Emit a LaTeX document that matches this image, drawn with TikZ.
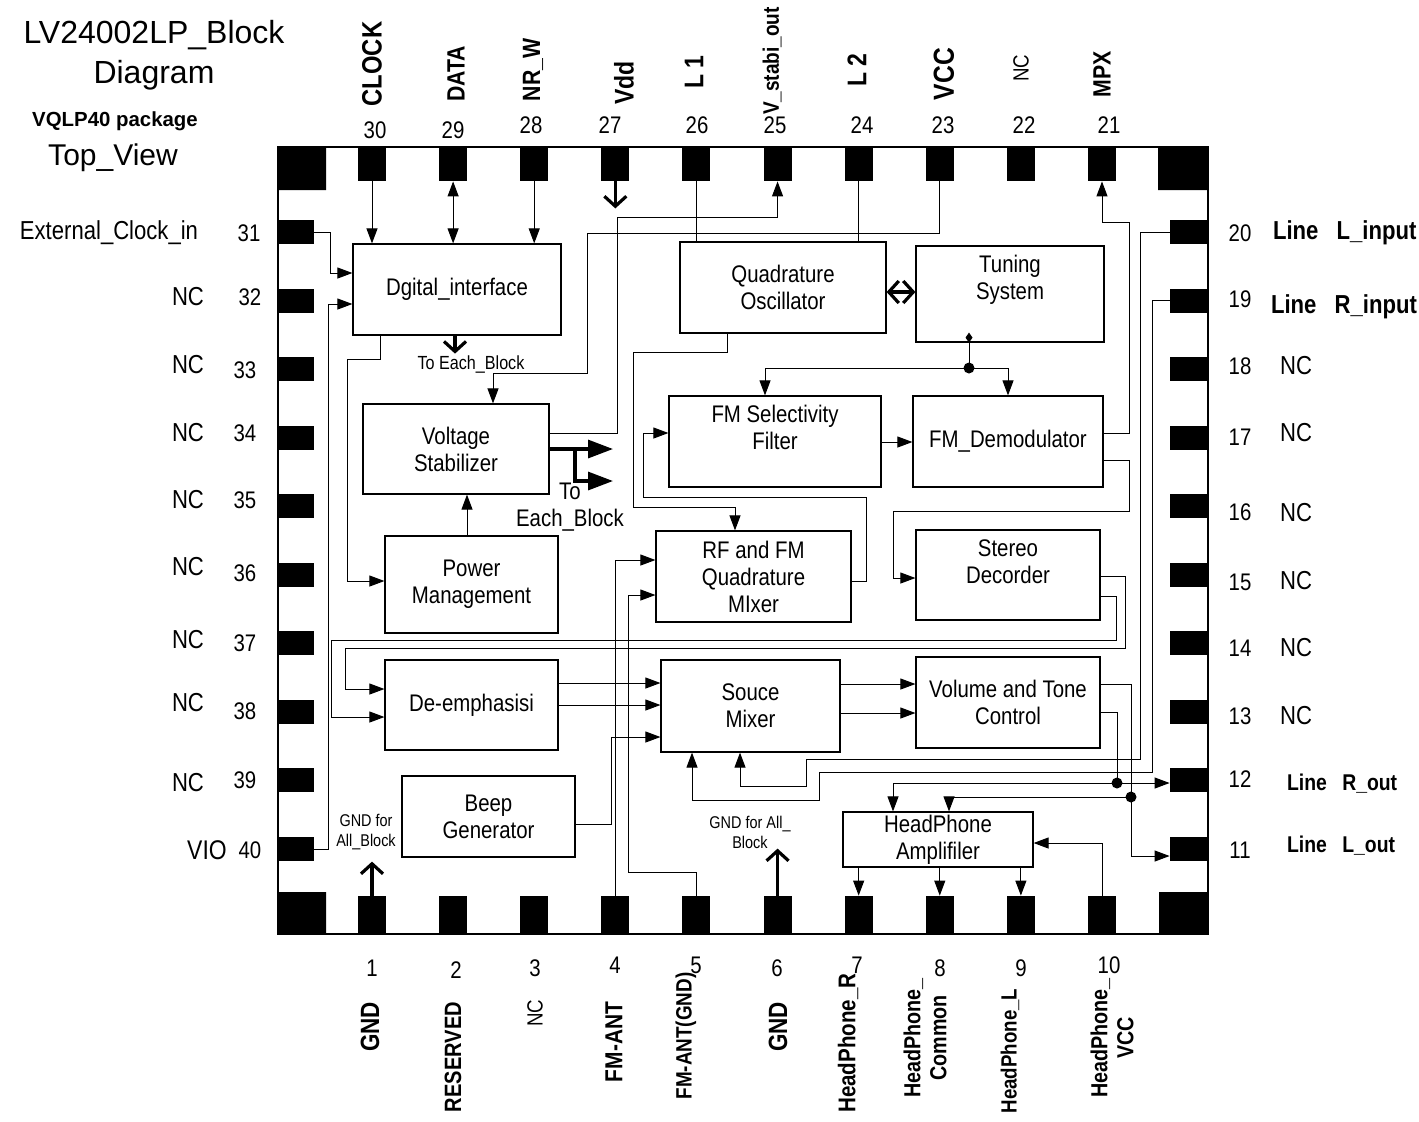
\documentclass[tikz,border=0pt]{standalone}
\usepackage{fontspec}
\setmainfont{Liberation Sans}
\newfontfamily\nar{Liberation Sans}[FakeStretch=0.85]
\usetikzlibrary{arrows.meta,calc}

\begin{document}
\begin{tikzpicture}[x=0.5pt, y=-0.5pt,
  block/.style={draw, line width=0.6pt, inner sep=0pt, align=center, font=\nar\fontsize{12}{13.5}\selectfont},
  pad/.style={fill=black, inner sep=0pt},
  wire/.style={line width=0.5pt},
  sig/.style={wire, -{Triangle[length=7.5pt,width=5.5pt]}},
  sigsig/.style={wire, {Triangle[length=7.5pt,width=5.5pt]}-{Triangle[length=7.5pt,width=5.5pt]}},
  bus/.style={line width=1.6pt, -{Straight Barb[length=5pt,width=11pt]}},
  busbus/.style={line width=1.6pt, {Straight Barb[length=5pt,width=11pt]}-{Straight Barb[length=5pt,width=11pt]}},
  pwr/.style={line width=1.6pt, -{Triangle[length=12.5pt,width=9pt]}},
  dot/.style={circle, fill=black, inner sep=0pt, minimum size=5.5pt},
  num/.style={font=\nar\fontsize{12}{13}\selectfont},
  nc/.style={font=\nar\fontsize{13}{14}\selectfont},
  pinlbl/.style={rotate=90, align=center, font=\nar\bfseries\fontsize{#1}{13}\selectfont},
  small/.style={align=center, font=\nar\fontsize{#1}{10}\selectfont}]
  \fill[white, use as bounding box] (0,0) rectangle (1419,1121);
  % heading
  \node[align=center, font=\fontsize{16}{20}\selectfont] (title) at (154,55) {LV24002LP\_Block\\Diagram};
  \node[font=\bfseries\fontsize{10.2}{12}\selectfont] (pkg) at (115,121) {VQLP40 package};
  \node[font=\fontsize{15}{17}\selectfont] (view) at (113,158) {Top\_View};
  % package and pads
  \draw[line width=0.6pt] (278,147) rectangle (1208,934);
  \fill (278,147) rectangle (326,190) (1158,147) rectangle (1208,190)
        (278,892) rectangle (326,934) (1159,892) rectangle (1208,934);
  \foreach \n [count=\i from 0] in {30,29,...,21}
    \node[pad, minimum width=14pt, minimum height=17pt] (p\n) at ({372+81.11*\i},164) {};
  \foreach \n in {1,...,10}
    \node[pad, minimum width=14pt, minimum height=19pt] (p\n) at ({372+81.11*(\n-1)},915) {};
  \foreach \n in {31,...,40}
    \node[pad, minimum width=18pt, minimum height=12pt] (p\n) at (296,{232+68.56*(\n-31)}) {};
  \foreach \n in {20,19,...,11}
    \node[pad, minimum width=19pt, minimum height=12pt] (p\n) at (1189,{232+68.56*(20-\n)}) {};
  % pin numbers
  \foreach \n/\x/\y in {30/375/130, 29/453/130, 28/531/125, 27/610/125, 26/697/125, 25/775/125, 24/862/125, 23/943/125, 22/1024/125, 21/1109/125,
                        1/372/968, 2/456/970, 3/535/968, 4/615/965, 5/696/965, 6/777/968, 7/857/965, 8/940/968, 9/1021/968, 10/1109/965,
                        31/249/233, 32/250/297, 33/245/370, 34/245/433, 35/245/500, 36/245/573, 37/245/643, 38/245/711, 39/245/780, 40/250/850,
                        20/1240/233, 19/1240/299, 18/1240/366, 17/1240/437, 16/1240/512, 15/1240/582, 14/1240/648, 13/1240/716, 12/1240/779, 11/1240/850}
    \node[num] (n\n) at (\x,\y) {\n};
  % pin names
  \foreach \n/\x/\y/\s/\t in {30/372/64/14/CLOCK, 29/456/74/12.5/DATA, 28/533/70/12.5/NR\_W, 27/624/83/13.5/Vdd, 26/694/72/13.5/L 1,
                              25/772/61/11.2/V\_stabi\_out, 24/857/70/13.5/L 2, 23/944/74/14.5/VCC, 21/1102/74/12.5/MPX,
                              1/370/1027/13.2/GND, 2/453/1057/11.8/RESERVED, 4/614/1042/12.3/FM-ANT, 5/686/1036/11.1/FM-ANT(GND),
                              6/778/1027/13.2/GND, 7/848/1043/12.1/HeadPhone\_R, 8/925/1038/11.6/HeadPhone\_\\Common,
                              9/1010/1051/11/HeadPhone\_L, 10/1112/1038/11.6/HeadPhone\_\\VCC}
    \node[pinlbl=\s] (t\n) at (\x,\y) {\t};
  \node[nc, rotate=90, font=\nar\fontsize{11}{12}\selectfont] (t22) at (1021,68) {NC};
  \node[nc, rotate=90, font=\nar\fontsize{11}{12}\selectfont] (t3) at (535,1013) {NC};
  \node[nc] (t31) at (109,233) {External\_Clock\_in};
  \foreach \n/\y in {32/297, 33/365, 34/433, 35/500, 36/567, 37/640, 38/703, 39/783}
    \node[nc] (t\n) at (188,\y) {NC};
  \node[font=\nar\fontsize{13.5}{14}\selectfont] (t40) at (207,850) {VIO};
  \foreach \n/\y in {18/366, 17/433, 16/513, 15/581, 14/648, 13/716}
    \node[nc] (t\n) at (1296,\y) {NC};
  \node[anchor=west, font=\nar\bfseries\fontsize{13}{14}\selectfont] (t20) at (1266,233) {Line\hspace{6pt} L\_input};
  \node[anchor=west, font=\nar\bfseries\fontsize{13}{14}\selectfont] (t19) at (1264,307) {Line\hspace{6pt} R\_input};
  \node[anchor=west, font=\nar\bfseries\fontsize{11.4}{12}\selectfont] (t12) at (1280,784) {Line\hspace{5pt} R\_out};
  \node[anchor=west, font=\nar\bfseries\fontsize{11.4}{12}\selectfont] (t11) at (1280,846) {Line\hspace{5pt} L\_out};
  % blocks
  \node[block, minimum width=104pt, minimum height=45.5pt] (dig) at (457,289.5) {Dgital\_interface};
  \node[block, minimum width=103pt, minimum height=45.5pt] (qo) at (783,287.5) {Quadrature\\Oscillator};
  \node[block, minimum width=94pt, minimum height=48pt, label={[align=center, font=\nar\fontsize{12}{13.5}\selectfont, yshift=7pt]center:Tuning\\System}] (tun) at (1010,294) {};
  \node[block, minimum width=93pt, minimum height=45pt] (vs) at (456,449) {Voltage\\Stabilizer};
  \node[block, minimum width=86.5pt, minimum height=48.5pt] (pm) at (471.5,584.5) {Power\\Management};
  \node[block, minimum width=106pt, minimum height=45.5pt, label={[align=center, font=\nar\fontsize{12}{13.5}\selectfont, yshift=7pt]center:FM Selectivity\\Filter}] (fms) at (775,441.5) {};
  \node[block, minimum width=95pt, minimum height=45.5pt] (fmd) at (1008,441.5) {FM\_Demodulator};
  \node[block, minimum width=97.5pt, minimum height=45.5pt] (rfm) at (753.5,576.5) {RF and FM\\Quadrature\\MIxer};
  \node[block, minimum width=92pt, minimum height=45pt, label={[align=center, font=\nar\fontsize{12}{13.5}\selectfont, yshift=6.5pt]center:Stereo\\Decorder}] (ster) at (1008,575) {};
  \node[block, minimum width=86.5pt, minimum height=45pt] (dem) at (471.5,705) {De-emphasisi};
  \node[block, minimum width=89.5pt, minimum height=46pt] (smx) at (750.5,706) {Souce\\Mixer};
  \node[block, minimum width=92pt, minimum height=45.5pt] (vol) at (1008,702.5) {Volume and Tone\\Control};
  \node[block, minimum width=86.5pt, minimum height=40.5pt] (beep) at (488.5,816.5) {Beep\\Generator};
  \node[block, minimum width=95pt, minimum height=27.5pt] (hpa) at (938,839.5) {HeadPhone\\Amplifiler};
  % notes
  \node[small=9.5] (te1) at (471,364) {To Each\_Block};
  \node[align=center, font=\nar\fontsize{12}{13.5}\selectfont] (te2) at (570,507) {To\\Each\_Block};
  \node[small=8.5] (g1) at (366,832) {GND for\\All\_Block};
  \node[small=8.5] (g6) at (750,832) {GND for All\_\\Block};
  % junctions
  \coordinate (tund) at ($(tun.south -| 969,0)+(0,-10)$);
  \node[dot] (j1) at (969,368) {};
  \node[dot] (j2) at (1117,783) {};
  \node[dot] (j3) at (1131,797) {};
  \coordinate (eb1) at (613,449);
  \coordinate (eb2) at (613,481);
  % top pins
  \draw[sig] (p30.south) -- (dig.north -| p30);
  \draw[sigsig] (p29.south) -- (dig.north -| p29);
  \draw[sig] (p28.south) -- (dig.north -| p28);
  \draw[bus] (p27.south) -- ++(0,27);
  \draw[wire] (p26.south) -- (qo.north -| p26);
  \draw[sig] (vs.east |- 0,433) -| (617,217) -| (p25.south);
  \draw[wire] (p24.south) -- (qo.north -| p24);
  \draw[sig] (p23.south) |- (587,233) |- (493,373) -- (vs.north -| 493,0);
  % left pins
  \draw[sig] (p31.east) -| (330,273) -- (dig.west |- 0,273);
  \draw[sig] (p40.east) -| (328,304) -- (dig.west |- 0,304);
  % power
  \draw[sig] (dig.south -| 380,0) |- (347,359) |- (pm.west |- 0,581);
  \draw[bus] (dig.south -| 455,0) -- ++(0,18);
  \draw[sig] (pm.north -| 467,0) -- (vs.south -| 467,0);
  \draw[pwr] (vs.east |- 0,449) -- (eb1);
  \draw[pwr] (575,449) |- (eb2);
  % tuning and FM path
  \draw[sig] (qo.south -| 727,0) |- (633,352) |- (735,507) -- (rfm.north -| 735,0);
  \draw[busbus] (qo.east |- 0,292) -- (tun.west |- 0,292);
  \draw[wire, {Diamond[length=5pt,width=3.5pt]}-] (tund) -- (j1.center);
  \draw[sig] (j1.center) -| (fms.north -| 765,0);
  \draw[sig] (j1.center) -| (fmd.north -| 1008,0);
  \draw[sig] (fms.east |- 0,442) -- (fmd.west |- 0,442);
  \draw[sig] (rfm.east |- 0,581) -| (866,497) -| (643,433) -- (fms.west |- 0,433);
  \draw[sig] (fmd.east |- 0,433) -| (1129,222) -| (p21.south);
  \draw[sig] (fmd.east |- 0,460) -| (1129,511) -| (893,578) -- (ster.west |- 0,578);
  \draw[sig] (p4.north) |- (rfm.west |- 0,560);
  \draw[sig] (p5.north) |- (628,872) |- (rfm.west |- 0,595);
  % audio path
  \draw[sig] (ster.east |- 0,576) -| (1125,648) -| (345,689) -- (dem.west |- 0,689);
  \draw[sig] (ster.east |- 0,596) -| (1116,640) -| (331,717) -- (dem.west |- 0,717);
  \draw[sig] (dem.east |- 0,683) -- (smx.west |- 0,683);
  \draw[sig] (dem.east |- 0,705) -- (smx.west |- 0,705);
  \draw[sig] (beep.east |- 0,824) -| (611,737) -- (smx.west |- 0,737);
  \draw[sig] (p20.west) -| (1140,759) -| (806,786) -| (smx.south -| 740,0);
  \draw[sig] (p19.west) -| (1152,772) -| (819,800) -| (smx.south -| 692,0);
  \draw[sig] (smx.east |- 0,684) -- (vol.west |- 0,684);
  \draw[sig] (smx.east |- 0,713) -- (vol.west |- 0,713);
  \draw[wire] (vol.east |- 0,712) -| (j2.center);
  \draw[sig] (j2.center) -- (p12.west |- j2.center);
  \draw[sig] (j2.center) -| (hpa.north -| 893,0);
  \draw[sig] (vol.east |- 0,684) -| (1131,856) -- (p11.west |- 0,856);
  \draw[sig] (j3.center) -| (hpa.north -| 949,0);
  % headphone
  \foreach \n in {7,8,9}
    \draw[sig] (hpa.south -| p\n) -- (p\n.north);
  \draw[sig] (p10.north) |- (hpa.east |- 0,843);
  \draw[bus] (p1.north) -- ++(0,-34);
  \draw[bus] (p6.north) -- ++(0,-47);
\end{tikzpicture}
\end{document}
